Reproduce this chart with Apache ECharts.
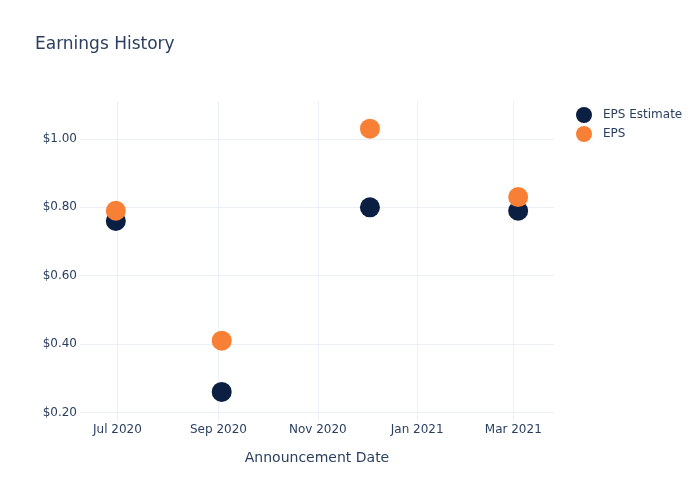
<!DOCTYPE html>
<html>
<head>
<meta charset="utf-8">
<script src="https://cdn.jsdelivr.net/npm/echarts@6/dist/echarts.min.js"></script>
<style>html,body{margin:0;padding:0;background:#fff}#c{width:700px;height:500px}</style>
</head>
<body>
<div id="c"></div>
<script>
const dates = ['2020-06-30', '2020-09-03', '2020-12-03', '2021-03-04'];
const epsEstimate = [0.76, 0.26, 0.80, 0.79];
const eps = [0.79, 0.41, 1.03, 0.83];
const xTicks = ['2020-07-01', '2020-09-01', '2020-11-01', '2021-01-01', '2021-03-01'];
const yTicks = [0.2, 0.4, 0.6, 0.8, 1.0];
const monthNames = ['Jan','Feb','Mar','Apr','May','Jun','Jul','Aug','Sep','Oct','Nov','Dec'];

const toTs = s => { const p = s.split('-').map(Number); return new Date(p[0], p[1]-1, p[2]).getTime(); };
const font = 'DejaVu Sans';
const txt = '#2a3f5f';
const grid = '#ebf0f8';

const chart = echarts.init(document.getElementById('c'));
chart.setOption({
  backgroundColor: '#fff',
  animation: false,
  title: { text: 'Earnings History', left: 35, top: 36, padding: 0,
    textStyle: { fontFamily: font, fontSize: 17, fontWeight: 'normal', color: txt } },
  legend: { orient: 'vertical', left: 571, top: 102, itemGap: 3, itemWidth: 16, itemHeight: 16,
    icon: 'circle', textStyle: { fontFamily: font, fontSize: 12, color: txt, padding: [0, 0, 0, 6] },
    data: ['EPS Estimate', 'EPS'] },
  grid: { left: 80, right: 146, top: 101, bottom: 79, containLabel: false },
  xAxis: {
    type: 'value',
    min: toTs('2020-06-08'), max: toTs('2021-03-26'),
    name: 'Announcement Date', nameLocation: 'middle', nameGap: 30,
    nameTextStyle: { fontFamily: font, fontSize: 14, color: txt },
    axisLine: { show: false },
    axisTick: { show: false, customValues: xTicks.map(toTs) },
    axisLabel: { customValues: xTicks.map(toTs), margin: 3, fontFamily: font, fontSize: 12, color: txt,
      formatter: v => { const d = new Date(v); return monthNames[d.getMonth()] + ' ' + d.getFullYear(); } },
    splitLine: { show: true, lineStyle: { color: grid, width: 1 } }
  },
  yAxis: {
    type: 'value', min: 0.175, max: 1.111,
    axisLine: { show: false },
    axisTick: { show: false, customValues: yTicks },
    axisLabel: { customValues: yTicks, margin: 3, fontFamily: font, fontSize: 12, color: txt,
      formatter: v => '$' + v.toFixed(2) },
    splitLine: { show: true, lineStyle: { color: grid, width: 1 } }
  },
  series: [
    { name: 'EPS Estimate', type: 'scatter', symbolSize: 20,
      itemStyle: { color: '#0b1f42', opacity: 1 },
      data: dates.map((d, i) => [toTs(d), epsEstimate[i]]) },
    { name: 'EPS', type: 'scatter', symbolSize: 20,
      itemStyle: { color: '#f78036', opacity: 1 },
      data: dates.map((d, i) => [toTs(d), eps[i]]) }
  ]
});
</script>
</body>
</html>
